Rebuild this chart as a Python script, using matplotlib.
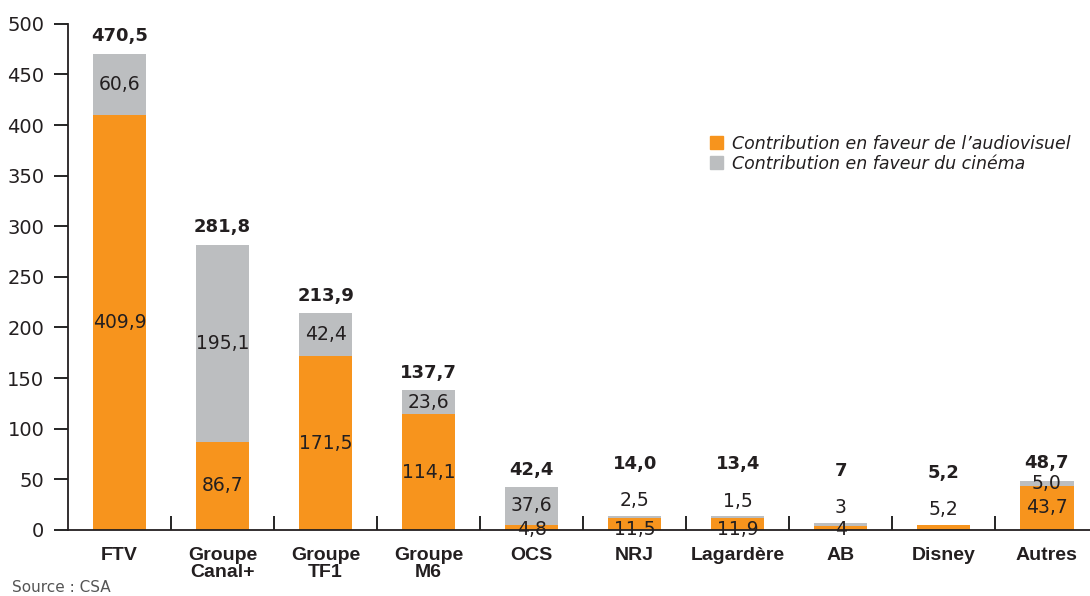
import matplotlib.pyplot as plt
from matplotlib.patches import Patch
from matplotlib import font_manager

# =========================
# DATA
# =========================

groups = ["FTV", "Groupe\nCanal+", "Groupe\nTF1", "Groupe\nM6", "OCS",
          "NRJ", "Lagardère", "AB", "Disney", "Autres"]

audiovisuel = [409.9, 86.7, 171.5, 114.1, 4.8, 11.5, 11.9, 4, 5.2, 43.7]
cinema = [60.6, 195.1, 42.4, 23.6, 37.6, 2.5, 1.5, 3, 0, 5.0]

audio_labels = ["409,9", "86,7", "171,5", "114,1", "4,8", "11,5", "11,9", "4", "5,2", "43,7"]
cinema_labels = ["60,6", "195,1", "42,4", "23,6", "37,6", "2,5", "1,5", "3", "", "5,0"]
total_labels = ["470,5", "281,8", "213,9", "137,7", "42,4", "14,0", "13,4", "7", "5,2", "48,7"]

legend_names = ["Contribution en faveur de l\u2019audiovisuel",
                "Contribution en faveur du cinéma"]

# =========================
# STYLE
# =========================

ORANGE = "#F7941D"
GREY = "#BCBEC0"
TXT = "#231F20"

installed = {f.name for f in font_manager.fontManager.ttflist}
narrow = "Liberation Sans Narrow" if "Liberation Sans Narrow" in installed else "Liberation Sans"

plt.rcParams["font.family"] = ["DejaVu Sans"]

fig = plt.figure(figsize=(10.9, 5.96), dpi=100)
ax = fig.add_axes([0.0624, 0.111, 0.9376, 0.849])

x = list(range(len(groups)))

# =========================
# BARS
# =========================

ax.bar(x, audiovisuel, width=0.52, color=ORANGE, zorder=2)
ax.bar(x, cinema, width=0.52, bottom=audiovisuel, color=GREY, zorder=2)

# =========================
# VALUE LABELS
# =========================

for i in x:
    a = audiovisuel[i]
    c = cinema[i]
    top = a + c
    above = 0  # points stacked above the bar

    # cinema part
    if c > 0:
        if c < 5:
            ax.annotate(cinema_labels[i], (i, top), xytext=(0, 4), textcoords="offset points",
                        ha="center", va="bottom", fontsize=13.5, color=TXT)
            above = 20
        else:
            ax.text(i, a + c / 2, cinema_labels[i], ha="center", va="center",
                    fontsize=13.5, color=TXT)

    # audiovisual part
    if c == 0:
        ax.annotate(audio_labels[i], (i, top), xytext=(0, 4), textcoords="offset points",
                    ha="center", va="bottom", fontsize=13.5, color=TXT)
        above = 20
    elif a < 15:
        ax.text(i, 0, audio_labels[i], ha="center", va="center",
                fontsize=13.5, color=TXT, zorder=3)
    else:
        ax.text(i, a / 2, audio_labels[i], ha="center", va="center",
                fontsize=13.5, color=TXT)

    # total
    ax.annotate(total_labels[i], (i, top), xytext=(0, 6 + above * 1.25),
                textcoords="offset points", ha="center", va="bottom",
                fontsize=13, fontweight="bold", color=TXT)

# =========================
# AXES
# =========================

ax.set_xlim(-0.5, 9.42)
ax.set_ylim(0, 500)
ax.set_yticks(range(0, 501, 50))
ax.tick_params(axis="y", direction="out", length=10, width=1.2,
               labelsize=14, labelcolor=TXT, pad=7)

ax.set_xticks(x)
ax.set_xticklabels(groups, fontsize=14, fontweight="bold", family=narrow,
                   linespacing=1.0, color=TXT)
ax.tick_params(axis="x", which="major", length=0, pad=12)
ax.set_xticks([i + 0.5 for i in x[:-1]], minor=True)
ax.tick_params(axis="x", which="minor", direction="in", length=10, width=1.2)

for side in ["top", "right"]:
    ax.spines[side].set_visible(False)
ax.spines["left"].set_linewidth(1.3)
ax.spines["bottom"].set_linewidth(1.3)
ax.spines["left"].set_color(TXT)
ax.spines["bottom"].set_color(TXT)

# =========================
# LEGEND
# =========================

handles = [Patch(color=ORANGE), Patch(color=GREY)]
fig.legend(handles, legend_names, loc="upper left", bbox_to_anchor=(0.637, 0.8),
           frameon=False, handlelength=0.75, handleheight=0.75, handletextpad=0.5,
           labelspacing=0.1, prop={"size": 12.5, "style": "italic"}, labelcolor=TXT)

# =========================
# SOURCE
# =========================

fig.text(0.011, 0.006, "Source : CSA", fontsize=11, color="#555555")

plt.savefig("out.png", dpi=100)
